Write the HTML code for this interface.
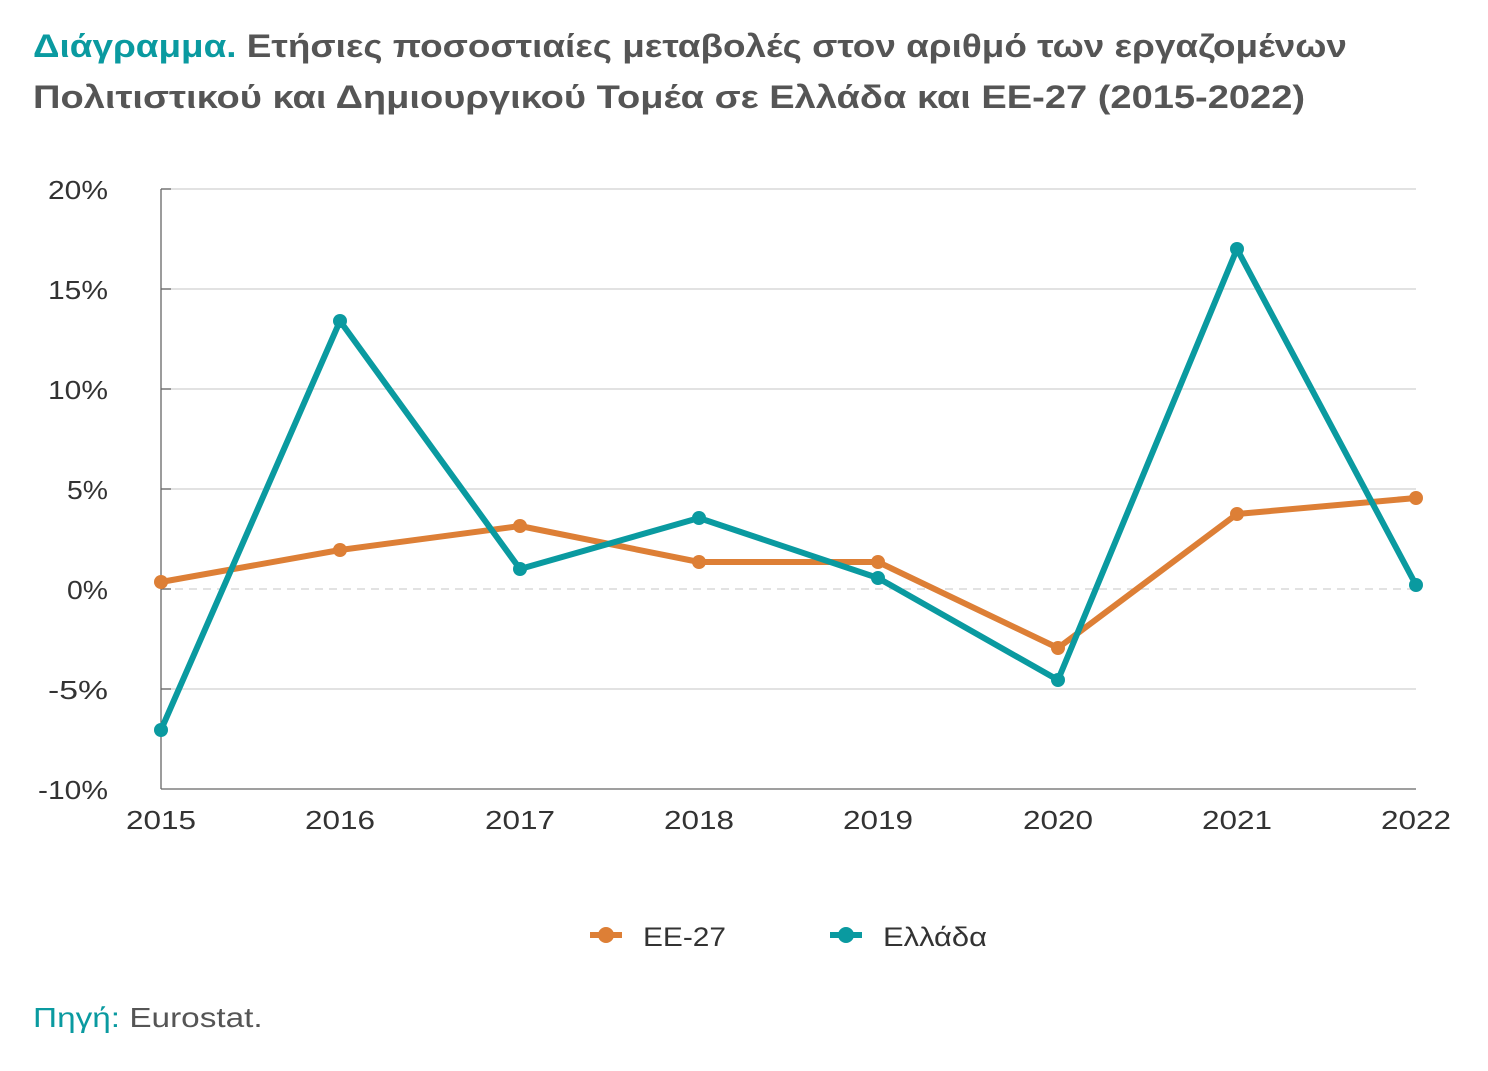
<!DOCTYPE html>
<html><head><meta charset="utf-8"><style>
body{margin:0;background:#fff;width:1488px;height:1071px;overflow:hidden;font-family:"Liberation Sans","DejaVu Sans",sans-serif}
.t{position:absolute;left:33px;font-size:32px;font-weight:bold;color:#555;line-height:51px;white-space:nowrap;transform-origin:0 0}
.t span{color:#0a9aa0}
.src{position:absolute;left:33px;top:1002px;font-size:28px;color:#555;transform:scaleX(1.19);transform-origin:0 0}
.src span{color:#0a9aa0}
</style></head><body>
<div class="t" style="top:21px;transform:scaleX(1.153)"><span>Διάγραμμα.</span> Ετήσιες ποσοστιαίες μεταβολές στον αριθμό των εργαζομένων</div>
<div class="t" style="top:72px;transform:scaleX(1.189)">Πολιτιστικού και Δημιουργικού Τομέα σε Ελλάδα και ΕΕ-27 (2015-2022)</div>
<svg width="1488" height="1071" style="position:absolute;left:0;top:0" font-family="Liberation Sans, DejaVu Sans, sans-serif">
<g stroke="#d0d0d0" stroke-width="1.3">
<line x1="161" y1="189" x2="1416" y2="189"/><line x1="161" y1="289" x2="1416" y2="289"/>
<line x1="161" y1="389" x2="1416" y2="389"/><line x1="161" y1="489" x2="1416" y2="489"/>
<line x1="161" y1="689" x2="1416" y2="689"/>
<line x1="161" y1="589" x2="1416" y2="589" stroke-dasharray="8,6"/>
</g>
<g stroke="#666" stroke-width="1.3">
<line x1="161" y1="189" x2="161" y2="789"/><line x1="161" y1="789" x2="1416" y2="789"/>
<line x1="161" y1="189" x2="171" y2="189"/><line x1="161" y1="289" x2="171" y2="289"/><line x1="161" y1="389" x2="171" y2="389"/><line x1="161" y1="489" x2="171" y2="489"/><line x1="161" y1="589" x2="171" y2="589"/><line x1="161" y1="689" x2="171" y2="689"/>
</g>
<g font-size="26" fill="#333" text-anchor="end">
<text x="108" y="199" textLength="60" lengthAdjust="spacingAndGlyphs">20%</text><text x="108" y="299" textLength="60" lengthAdjust="spacingAndGlyphs">15%</text><text x="108" y="399" textLength="60" lengthAdjust="spacingAndGlyphs">10%</text><text x="108" y="499" textLength="41" lengthAdjust="spacingAndGlyphs">5%</text><text x="108" y="599" textLength="41" lengthAdjust="spacingAndGlyphs">0%</text><text x="108" y="699" textLength="60" lengthAdjust="spacingAndGlyphs">-5%</text><text x="108" y="799" textLength="70" lengthAdjust="spacingAndGlyphs">-10%</text>
</g>
<g font-size="26" fill="#333" text-anchor="middle">
<text x="161" y="829" textLength="70" lengthAdjust="spacingAndGlyphs">2015</text><text x="340" y="829" textLength="70" lengthAdjust="spacingAndGlyphs">2016</text><text x="520" y="829" textLength="70" lengthAdjust="spacingAndGlyphs">2017</text><text x="699" y="829" textLength="70" lengthAdjust="spacingAndGlyphs">2018</text><text x="878" y="829" textLength="70" lengthAdjust="spacingAndGlyphs">2019</text><text x="1058" y="829" textLength="70" lengthAdjust="spacingAndGlyphs">2020</text><text x="1237" y="829" textLength="70" lengthAdjust="spacingAndGlyphs">2021</text><text x="1416" y="829" textLength="70" lengthAdjust="spacingAndGlyphs">2022</text>
</g>
<polyline fill="none" stroke="#dd7f36" stroke-width="6" stroke-linejoin="round" points="161,582 340,550 520,526 699,562 878,562 1058,648 1237,514 1416,498"/>
<g fill="#dd7f36"><circle cx="161" cy="582" r="7"/><circle cx="340" cy="550" r="7"/><circle cx="520" cy="526" r="7"/><circle cx="699" cy="562" r="7"/><circle cx="878" cy="562" r="7"/><circle cx="1058" cy="648" r="7"/><circle cx="1237" cy="514" r="7"/><circle cx="1416" cy="498" r="7"/></g>
<polyline fill="none" stroke="#0a9aa0" stroke-width="6" stroke-linejoin="round" points="161,730 340,321 520,569 699,518 878,578 1058,680 1237,249 1416,585"/>
<g fill="#0a9aa0"><circle cx="161" cy="730" r="7"/><circle cx="340" cy="321" r="7"/><circle cx="520" cy="569" r="7"/><circle cx="699" cy="518" r="7"/><circle cx="878" cy="578" r="7"/><circle cx="1058" cy="680" r="7"/><circle cx="1237" cy="249" r="7"/><circle cx="1416" cy="585" r="7"/></g>
<line x1="590" y1="935" x2="622" y2="935" stroke="#dd7f36" stroke-width="6"/><circle cx="606" cy="935" r="8" fill="#dd7f36"/>
<text x="643" y="946" font-size="27" fill="#333" textLength="83" lengthAdjust="spacingAndGlyphs">ΕΕ-27</text>
<line x1="830" y1="935" x2="862" y2="935" stroke="#0a9aa0" stroke-width="6"/><circle cx="846" cy="935" r="8" fill="#0a9aa0"/>
<text x="883" y="946" font-size="27" fill="#333" textLength="104" lengthAdjust="spacingAndGlyphs">Ελλάδα</text>
</svg>
<div class="src"><span>Πηγή:</span> Eurostat.</div>
</body></html>
